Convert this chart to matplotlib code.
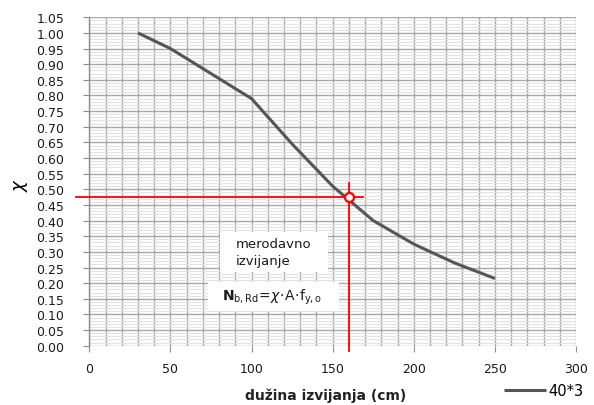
import numpy as np
import matplotlib
matplotlib.use("Agg")
import matplotlib.pyplot as plt
from matplotlib.patches import Rectangle
from matplotlib.ticker import MultipleLocator, FormatStrFormatter

# Buckling reduction factor chi versus buckling length for profile 40*3
length_cm = [30, 50, 75, 100, 125, 150, 175, 200, 225, 250]
chi = [1.00, 0.95, 0.87, 0.79, 0.645, 0.51, 0.40, 0.325, 0.265, 0.215]
series_name = "40*3"

# Governing buckling point
design_length = 160
design_chi = 0.475

fig = plt.figure(figsize=(5.94, 4.06), dpi=100)
ax = fig.add_axes([0.1503, 0.146, 0.8194, 0.809])

ax.set_xlim(0, 300)
ax.set_ylim(0, 1.05)

# Grid: vertical every 10 cm, horizontal major every 0.05 and minor every 0.01
ax.xaxis.set_major_locator(MultipleLocator(50))
ax.xaxis.set_minor_locator(MultipleLocator(10))
ax.yaxis.set_major_locator(MultipleLocator(0.05))
ax.yaxis.set_minor_locator(MultipleLocator(0.01))
ax.yaxis.set_major_formatter(FormatStrFormatter("%.2f"))

ax.grid(which="major", axis="both", color="#a8a8a8", linewidth=1.0, zorder=0)
ax.grid(which="minor", axis="x", color="#a8a8a8", linewidth=1.0, zorder=0)
ax.grid(which="minor", axis="y", color="#e2e2e2", linewidth=0.8, zorder=0)
ax.set_axisbelow(True)

for side in ["top", "right", "bottom"]:
    ax.spines[side].set_visible(False)
ax.spines["left"].set_color("#8c8c8c")
ax.spines["left"].set_linewidth(1.0)

ax.tick_params(axis="both", which="major", length=4, color="#8c8c8c",
               labelsize=9, labelcolor="#1a1a1a")
ax.tick_params(axis="both", which="minor", length=0)
ax.tick_params(axis="y", pad=14)
ax.tick_params(axis="x", pad=8)

# Curve
ax.plot(length_cm, chi, color="#555555", linewidth=2.2, label=series_name,
        solid_capstyle="butt", zorder=3)

# Red reading lines and marker
ax.plot([-8, design_length + 9], [design_chi, design_chi], color="red",
        linewidth=1.3, clip_on=False, zorder=4)
ax.plot([design_length, design_length], [-0.016, design_chi + 0.045],
        color="red", linewidth=1.3, clip_on=False, zorder=4)
ax.plot([design_length], [design_chi], marker="o", markersize=6.5,
        markerfacecolor="white", markeredgecolor="red", markeredgewidth=1.6,
        zorder=5)

# Annotation boxes
ax.add_patch(Rectangle((80.5, 0.236), 66.5, 0.128, facecolor="white",
                       edgecolor="none", zorder=6))
ax.text(90, 0.300, "merodavno\nizvijanje", fontsize=9.5, ha="left", va="center",
        linespacing=1.35, color="#1a1a1a", zorder=7)
ax.add_patch(Rectangle((73, 0.112), 81, 0.093, facecolor="white",
                       edgecolor="none", zorder=6))
ax.text(81.5, 0.157,
        r"$\mathbf{N}_{\mathrm{b,Rd}}\!=\!\chi\!\cdot\!\mathrm{A}\!\cdot\!\mathrm{f}_{\mathrm{y,o}}$",
        fontsize=10, ha="left", va="center", color="#1a1a1a", zorder=7)

# Axis titles
fig.text(0.035, 0.545, r"$\chi$", fontsize=13, fontweight="bold",
         rotation=90, ha="center", va="center")
fig.text(0.549, 0.025, "dužina izvijanja (cm)", fontsize=10, fontweight="bold",
         ha="center", va="center", color="#222222")

# Legend
leg = fig.legend(loc="lower right", bbox_to_anchor=(1.005, -0.015), frameon=False,
                 fontsize=10.5, handlelength=2.9, handletextpad=0.2)

fig.savefig("out.png", dpi=100)
